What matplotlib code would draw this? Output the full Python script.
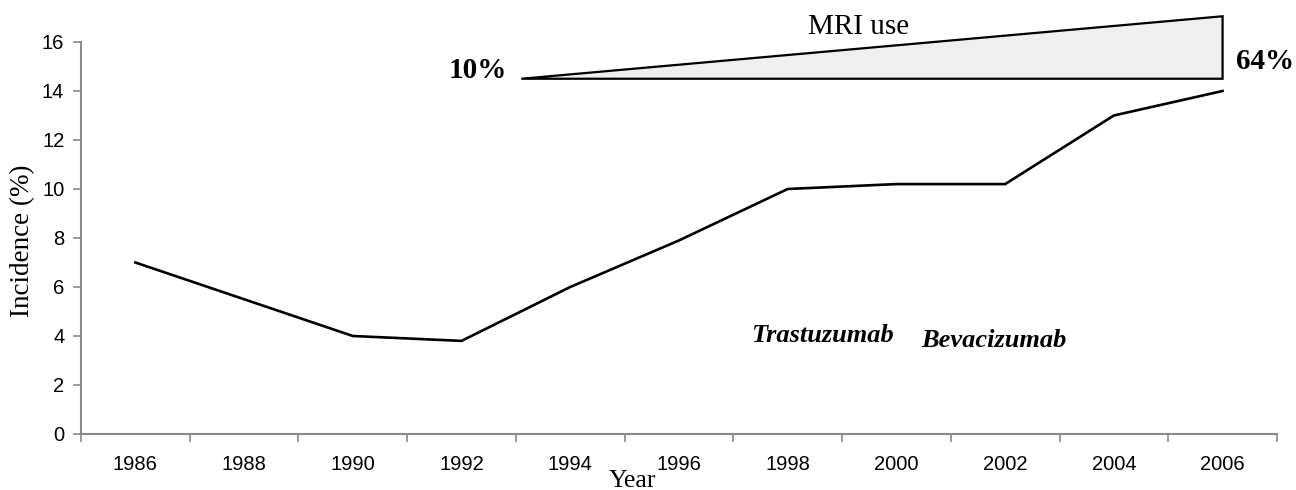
import numpy as np
import matplotlib
matplotlib.use("Agg")
from matplotlib import pyplot as plt
from matplotlib.patches import Polygon

# data
years = ["1986", "1988", "1990", "1992", "1994", "1996",
         "1998", "2000", "2002", "2004", "2006"]
incidence = [7.0, 5.5, 4.0, 3.8, 6.0, 7.9, 10.0, 10.2, 10.2, 13.0, 14.0]

mri_start_label = "10%"
mri_end_label = "64%"
drug_labels = ["Trastuzumab", "Bevacizumab"]

SERIF = "Liberation Serif"
SANS = "Liberation Sans"
AXCOL = "#8a8a8a"

fig = plt.figure(figsize=(12.96, 4.90), dpi=100)
ax = fig.add_axes([0.0625, 0.1143, 0.9228, 0.8000])

x = np.arange(len(years))
ax.plot(x, incidence, color="black", lw=1.9, solid_joinstyle="miter")

ax.set_xlim(-0.5, len(years) - 0.5)
ax.set_ylim(0, 16)
ax.set_yticks(np.arange(0, 17, 2))
ax.set_xticks(x)
ax.set_xticklabels(years, fontfamily=SANS, fontsize=14.5)
for lab in ax.get_yticklabels():
    lab.set_fontfamily(SANS)
    lab.set_fontsize(14.5)

# ticks between categories on x
ax.set_xticks(np.arange(-0.5, len(years), 1.0), minor=True)
ax.tick_params(axis="x", which="major", length=0, pad=15)
ax.tick_params(axis="x", which="minor", length=6, width=1.2, color=AXCOL)
ax.tick_params(axis="y", length=6, width=1.2, color=AXCOL, pad=6)

for s in ["top", "right"]:
    ax.spines[s].set_visible(False)
for s in ["left", "bottom"]:
    ax.spines[s].set_color(AXCOL)
    ax.spines[s].set_linewidth(1.5)

# MRI use wedge
tri = Polygon([[3.55, 14.5], [10.0, 17.05], [10.0, 14.5]], closed=True,
              facecolor="#efefef", edgecolor="black", lw=1.6, clip_on=False,
              zorder=3)
ax.add_patch(tri)
ax.text(3.42, 14.85, mri_start_label, ha="right", va="center",
        fontfamily=SERIF, fontweight="bold", fontsize=21, clip_on=False)
ax.text(10.12, 15.2, mri_end_label, ha="left", va="center",
        fontfamily=SERIF, fontweight="bold", fontsize=21, clip_on=False)
ax.text(6.65, 16.6, "MRI use", ha="center", va="center",
        fontfamily=SERIF, fontsize=21, clip_on=False)

ax.text(6.32, 4.0, drug_labels[0], ha="center", va="center",
        fontfamily=SERIF, fontweight="bold", fontstyle="italic", fontsize=19)
ax.text(7.9, 3.8, drug_labels[1], ha="center", va="center",
        fontfamily=SERIF, fontweight="bold", fontstyle="italic", fontsize=19)

ax.text(0.4615, -0.12, "Year", transform=ax.transAxes, ha="center",
        va="center", fontfamily=SERIF, fontsize=18.5)
ax.text(-0.049, 0.492, "Incidence (%)", transform=ax.transAxes,
        ha="center", va="center", rotation=90, fontfamily=SERIF, fontsize=19.5)

fig.savefig("out.png", dpi=100, facecolor="white")
